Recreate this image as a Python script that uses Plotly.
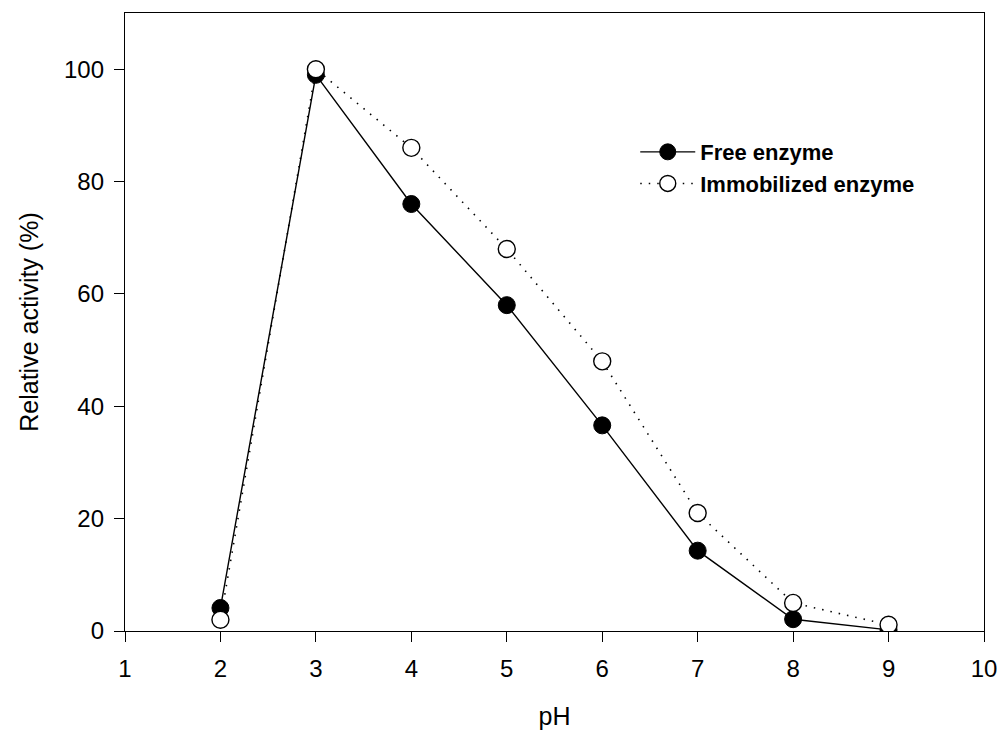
import plotly.graph_objects as go

ph = [2, 3, 4, 5, 6, 7, 8, 9]
free_enzyme = [4.1, 99, 76, 58, 36.6, 14.3, 2.1, 0.2]
immobilized_enzyme = [2.0, 100, 86, 68, 48, 21, 5.0, 1.1]

x_ticks = [1, 2, 3, 4, 5, 6, 7, 8, 9, 10]
y_ticks = [0, 20, 40, 60, 80, 100]

FONT = "Liberation Sans, Arial, sans-serif"

fig = go.Figure()
fig.add_trace(go.Scatter(
    x=ph, y=free_enzyme, name="Free enzyme", mode="lines+markers",
    line=dict(color="black", width=1.4),
    marker=dict(symbol="circle", size=17, color="black", line=dict(color="black", width=1)),
))
fig.add_trace(go.Scatter(
    x=ph, y=immobilized_enzyme, name="Immobilized enzyme", mode="lines+markers",
    line=dict(color="black", width=1.6, dash="1.5px,7px"),
    marker=dict(symbol="circle", size=17, color="white", line=dict(color="black", width=1.4)),
))

tick_font = dict(family=FONT, size=24, color="black")
title_font = dict(family=FONT, size=25, color="black")
fig.update_layout(
    width=1005, height=738,
    margin=dict(l=117, r=29, t=5, b=115, autoexpand=False),
    paper_bgcolor="white", plot_bgcolor="white",
    font=dict(family=FONT, color="black"),
    showlegend=True,
    legend=dict(
        x=0.594, y=0.809, xanchor="left", yanchor="top",
        font=dict(family=FONT, size=22, color="black", weight="bold"),
        bgcolor="rgba(0,0,0,0)", tracegroupgap=0, itemwidth=55,
    ),
    xaxis=dict(
        range=[1, 10], tickvals=x_ticks, ticks="outside", ticklen=10, tickwidth=1.4,
        tickcolor="black", showline=True, linecolor="black", linewidth=1.4, mirror=True,
        showgrid=False, zeroline=False, tickfont=tick_font, automargin=False,
        ticklabelstandoff=6,
        title=dict(text="pH", font=title_font, standoff=26),
    ),
    yaxis=dict(
        range=[0, 110], tickvals=y_ticks, ticks="outside", ticklen=10, tickwidth=1.4,
        tickcolor="black", showline=True, linecolor="black", linewidth=1.4, mirror=True,
        showgrid=False, zeroline=False, tickfont=tick_font, automargin=False,
        ticklabelstandoff=5,
        title=dict(text="Relative activity (%)", font=title_font, standoff=18),
    ),
)

fig.write_html("out.html")
